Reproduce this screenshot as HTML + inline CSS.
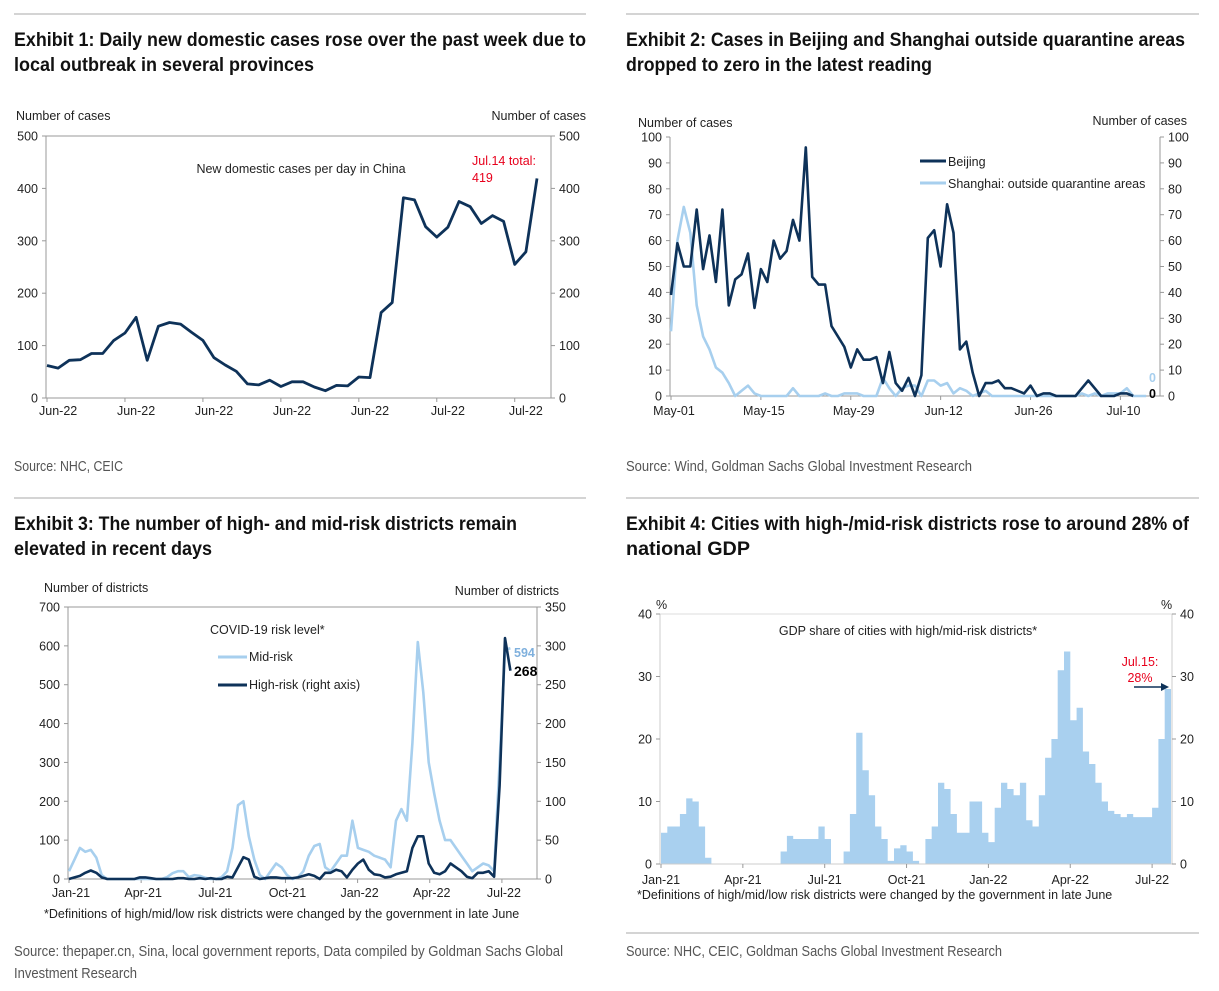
<!DOCTYPE html>
<html><head><meta charset="utf-8"><style>
body{margin:0;background:#fff;width:1219px;height:991px;overflow:hidden}
svg{display:block;font-family:"Liberation Sans",sans-serif}
.ttl{font-family:"Liberation Sans",sans-serif;font-weight:bold;font-size:19px;fill:#111}
.src{font-family:"Liberation Sans",sans-serif;font-size:14.5px;fill:#555}
.ax{font-size:12.5px;fill:#222}
</style></head><body>
<svg id="s" width="1219" height="991" viewBox="0 0 1219 991">
<g stroke="#bbb" stroke-width="1.2">
<line x1="14" y1="14" x2="586" y2="14"/><line x1="626" y1="14" x2="1199" y2="14"/>
<line x1="14" y1="498" x2="586" y2="498"/><line x1="626" y1="498" x2="1199" y2="498"/>
<line x1="626" y1="933" x2="1199" y2="933"/>
</g>
<text class="ttl" x="14" y="46" textLength="572" lengthAdjust="spacingAndGlyphs">Exhibit 1: Daily new domestic cases rose over the past week due to</text>
<text class="ttl" x="14" y="71" textLength="300" lengthAdjust="spacingAndGlyphs">local outbreak in several provinces</text>
<text class="ttl" x="626" y="46" textLength="559" lengthAdjust="spacingAndGlyphs">Exhibit 2: Cases in Beijing and Shanghai outside quarantine areas</text>
<text class="ttl" x="626" y="71" textLength="306" lengthAdjust="spacingAndGlyphs">dropped to zero in the latest reading</text>
<text class="ttl" x="14" y="530" textLength="503" lengthAdjust="spacingAndGlyphs">Exhibit 3: The number of high- and mid-risk districts remain</text>
<text class="ttl" x="14" y="555" textLength="198" lengthAdjust="spacingAndGlyphs">elevated in recent days</text>
<text class="ttl" x="626" y="530" textLength="563" lengthAdjust="spacingAndGlyphs">Exhibit 4: Cities with high-/mid-risk districts rose to around 28% of</text>
<text class="ttl" x="626" y="555" textLength="124" lengthAdjust="spacingAndGlyphs">national GDP</text>
<text class="src" x="14" y="471" textLength="109" lengthAdjust="spacingAndGlyphs">Source: NHC, CEIC</text>
<text class="src" x="626" y="471" textLength="346" lengthAdjust="spacingAndGlyphs">Source: Wind, Goldman Sachs Global Investment Research</text>
<text class="src" x="14" y="956" textLength="549" lengthAdjust="spacingAndGlyphs">Source: thepaper.cn, Sina, local government reports, Data compiled by Goldman Sachs Global</text>
<text class="src" x="14" y="978" textLength="123" lengthAdjust="spacingAndGlyphs">Investment Research</text>
<text class="src" x="626" y="956" textLength="376" lengthAdjust="spacingAndGlyphs">Source: NHC, CEIC, Goldman Sachs Global Investment Research</text>
</svg>
<script>
// ---- Chart 1 data ----
const c1Values=[62,57,72,73,85,85,110,124,154,72,137,144,141,125,110,77,63,51,27,25,34,22,31,31,21,14,24,23,40,39,163,182,382,378,327,307,326,375,365,333,348,337,255,279,419];
const c1Ticks=[0,100,200,300,400,500];
const c1XLabels=["Jun-22","Jun-22","Jun-22","Jun-22","Jun-22","Jul-22","Jul-22"];
// ---- Chart 2 data ----
const c2Beijing=[39,59,50,50,72,49,62,44,72,35,45,47,55,34,49,44,60,53,56,68,60,96,46,43,43,27,23,19,11,18,14,14,15,5,17,5,2,7,0,8,61,64,50,74,63,18,21,9,0,5,5,6,3,3,2,1,4,0,1,1,0,0,0,0,3,6,3,0,0,0,1,1,0];
const c2Shanghai=[25,60,73,63,35,23,18,11,9,5,0,2,4,1,0,0,0,0,0,3,0,0,0,0,1,0,0,1,1,1,0,0,0,7,3,0,3,4,4,0,6,6,4,5,1,3,2,0,1,2,0,0,0,0,0,0,0,0,0,0,0,0,0,0,1,0,1,0,1,1,1,3,0,0,0];
const c2Ticks=[0,10,20,30,40,50,60,70,80,90,100];
const c2XLabels=["May-01","May-15","May-29","Jun-12","Jun-26","Jul-10"];
// ---- Chart 3 data (weekly) ----
const c3Mid=[20,50,80,70,75,55,10,0,0,0,0,0,0,0,0,0,0,0,5,15,20,20,5,10,8,3,0,0,5,20,80,190,200,110,50,10,0,20,40,30,10,0,5,20,60,85,90,30,20,40,60,60,150,80,75,70,60,55,50,30,150,180,150,350,610,480,300,220,150,100,100,80,60,40,20,30,40,35,20,300,590,594];
const c3High=[0,2,4,8,11,8,2,0,0,0,0,0,0,2,2,1,0,0,0,0,1,1,0,0,1,0,1,0,0,3,2,15,28,25,3,0,1,2,2,1,1,1,2,4,6,4,0,8,8,12,10,2,12,20,25,12,6,5,2,3,6,8,10,40,55,55,20,8,6,10,20,15,10,3,1,8,8,10,3,120,310,268];
const c3LeftTicks=[0,100,200,300,400,500,600,700];
const c3RightTicks=[0,50,100,150,200,250,300,350];
const c3XLabels=["Jan-21","Apr-21","Jul-21","Oct-21","Jan-22","Apr-22","Jul-22"];
// ---- Chart 4 data (weekly) ----
const c4Share=[5,6,6,8,10.5,10,6,1,0,0,0,0,0,0,0,0,0,0,0,2,4.5,4,4,4,4,6,4,0,0,2,8,21,15,11,6,4,0.5,2.5,3,2,0.5,0,4,6,13,12,8,5,5,10,10,5,3.5,9,13,12,11,13,7,6,11,17,20,31,34,23,25,18,16,13,10,8.5,8,7.5,8,7.5,7.5,7.5,9,20,28];
const c4Ticks=[0,10,20,30,40];
const c4XLabels=["Jan-21","Apr-21","Jul-21","Oct-21","Jan-22","Apr-22","Jul-22"];

const NS="http://www.w3.org/2000/svg",S=document.getElementById('s');
function mk(tag,at,parent,txt){const e=document.createElementNS(NS,tag);for(const k in at)e.setAttribute(k,at[k]);if(txt!==undefined)e.textContent=txt;(parent||S).appendChild(e);return e;}
function grp(name){const g=mk('g',{});


return g;}
function frame(g,x0,x1,y0,y1,top,col){mk('path',{d:`M${x0},${y0}V${y1}H${x1}V${y0}`+(top?`H${x0}`:''),fill:'none',stroke:col||'#999','stroke-width':1},g);}
function yAxis(g,ticks,ys,x,side,prefix){ticks.forEach(t=>{const y=ys(t);
mk('line',{x1:x,x2:x+(side==='l'?-4:4),y1:y,y2:y,stroke:'#999'},g);
const tx=mk('text',{x:side==='l'?x-8:x+8,y:y+4.5,'text-anchor':side==='l'?'end':'start',class:'ax'},g,String(t));

});}
function line(g,vals,xs,ys,color,w,name){const d=vals.map((v,i)=>(i?'L':'M')+xs(i).toFixed(1)+','+ys(v).toFixed(1)).join('');
const p=mk('path',{d,fill:'none',stroke:color,'stroke-width':w,'stroke-linejoin':'round'},g);

return p;}
function txt(g,x,y,s,name,extra,style){const t=mk('text',Object.assign({x,y,class:'ax'},extra||{}),g,s);
if(style)t.setAttribute('style',style);

return t;}
const NAVY='#0e3259',LB='#a7cfee',RED='fill:#e8001c';

// Chart 1
(function(){const g=grp('exhibit-1-chart');const X0=46,X1=551,Y0=136,Y1=398;
const ys=v=>Y1-(v/500)*(Y1-Y0);const xs=i=>47+i*(537-47)/(c1Values.length-1);
frame(g,X0,X1,Y0,Y1,true);yAxis(g,c1Ticks,ys,X0,'l','c1-left');yAxis(g,c1Ticks,ys,X1,'r','c1-right');
c1XLabels.forEach((l,k)=>{const x=xs(k*7+1);txt(g,x,415,l,'c1-x-label',{'text-anchor':'middle'});mk('line',{x1:xs(k*7),x2:xs(k*7),y1:Y1,y2:Y1+4,stroke:'#999'},g);});
line(g,c1Values,xs,ys,NAVY,2.8,'new-cases-line');
txt(g,16,120,'Number of cases','c1-left-axis-title');txt(g,586,120,'Number of cases','c1-right-axis-title',{'text-anchor':'end'});
txt(g,301,173,'New domestic cases per day in China','c1-series-label',{'text-anchor':'middle'});
txt(g,472,165,'Jul.14 total:','c1-annotation',{},RED);txt(g,472,182,'419','c1-annotation-value',{},RED);})();

// Chart 2
(function(){const g=grp('exhibit-2-chart');const X0=670,X1=1160,Y0=137,Y1=396;
const ys=v=>Y1-(v/100)*(Y1-Y0);const xs=i=>671+i*6.42;
frame(g,X0,X1,Y0,Y1,false);yAxis(g,c2Ticks,ys,X0,'l','c2-left');yAxis(g,c2Ticks,ys,X1,'r','c2-right');
c2XLabels.forEach((l,k)=>{txt(g,xs(k*14)+3,415,l,'c2-x-label',{'text-anchor':'middle'});mk('line',{x1:xs(k*14),x2:xs(k*14),y1:Y1,y2:Y1+4,stroke:'#999'},g);});
line(g,c2Shanghai,xs,ys,LB,2.6,'shanghai-line');line(g,c2Beijing,xs,ys,NAVY,2.6,'beijing-line');
txt(g,638,127,'Number of cases','c2-left-axis-title');txt(g,1187,125,'Number of cases','c2-right-axis-title',{'text-anchor':'end'});
mk('line',{x1:920,x2:946,y1:161,y2:161,stroke:NAVY,'stroke-width':3},g);txt(g,948,166,'Beijing','legend-beijing');
mk('line',{x1:920,x2:946,y1:183,y2:183,stroke:LB,'stroke-width':3},g);txt(g,948,188,'Shanghai: outside quarantine areas','legend-shanghai');
txt(g,1149,382,'0','shanghai-last-value',{'font-weight':'bold'},'fill:'+LB);txt(g,1149,398,'0','beijing-last-value',{'font-weight':'bold'},'fill:#000');})();

// Chart 3
(function(){const g=grp('exhibit-3-chart');const X0=68,X1=537,Y0=607,Y1=879;
const ysL=v=>Y1-(v/700)*(Y1-Y0),ysR=v=>Y1-(v/350)*(Y1-Y0);const xs=i=>69+i*5.45;
frame(g,X0,X1,Y0,Y1,true);yAxis(g,c3LeftTicks,ysL,X0,'l','c3-left');yAxis(g,c3RightTicks,ysR,X1,'r','c3-right');
c3XLabels.forEach((l,k)=>{const x=69+k*13*5.55;txt(g,x+2,897,l,'c3-x-label',{'text-anchor':'middle'});mk('line',{x1:x,x2:x,y1:Y1,y2:Y1+4,stroke:'#999'},g);});
line(g,c3Mid,xs,ysL,LB,2.6,'mid-risk-line');line(g,c3High,xs,ysR,NAVY,2.6,'high-risk-line');
txt(g,44,592,'Number of districts','c3-left-axis-title');txt(g,559,595,'Number of districts','c3-right-axis-title',{'text-anchor':'end'});
txt(g,210,634,'COVID-19 risk level*','c3-legend-title');
mk('line',{x1:218,x2:247,y1:657,y2:657,stroke:LB,'stroke-width':3},g);txt(g,249,661,'Mid-risk','legend-mid-risk');
mk('line',{x1:218,x2:247,y1:685,y2:685,stroke:NAVY,'stroke-width':3},g);txt(g,249,689,'High-risk (right axis)','legend-high-risk');
txt(g,514,657,'594','mid-risk-last-value',{'font-weight':'bold'},'fill:#7fb0dd');txt(g,514,676,'268','high-risk-last-value',{'font-weight':'bold'},'fill:#000;font-size:14px');
txt(g,44,918,'*Definitions of high/mid/low risk districts were changed by the government in late June','c3-footnote');})();

// Chart 4
(function(){const g=grp('exhibit-4-chart');const X0=660,X1=1172,Y0=614,Y1=864;
const n=c4Share.length,w=(X1-1-661)/n;
const ys=v=>Y1-(v/40)*(Y1-Y0);const xs=i=>661+i*w;
mk('line',{x1:X0,x2:X1,y1:Y0,y2:Y0,stroke:'#ddd'},g);
let d=`M${xs(0)},${Y1}`;c4Share.forEach((v,i)=>{d+=`L${xs(i).toFixed(1)},${ys(v).toFixed(1)}L${(xs(i)+w).toFixed(1)},${ys(v).toFixed(1)}`;});d+=`L${(xs(n-1)+w).toFixed(1)},${Y1}Z`;
const a=mk('path',{d,fill:'#a9d0ef'},g);


frame(g,X0,X1,Y0,Y1,false,'#ccc');yAxis(g,c4Ticks,ys,X0,'l','c4-left');yAxis(g,c4Ticks,ys,X1,'r','c4-right');
c4XLabels.forEach((l,k)=>{const x=xs(k*13);txt(g,x,884,l,'c4-x-label',{'text-anchor':'middle'});mk('line',{x1:x,x2:x,y1:Y1,y2:Y1+4,stroke:'#999'},g);});
txt(g,656,609,'%','c4-left-axis-title');txt(g,1161,609,'%','c4-right-axis-title');
txt(g,908,635,'GDP share of cities with high/mid-risk districts*','c4-series-label',{'text-anchor':'middle'});
txt(g,1140,666,'Jul.15:','c4-annotation',{'text-anchor':'middle'},RED);txt(g,1140,682,'28%','c4-annotation-value',{'text-anchor':'middle'},RED);
mk('line',{x1:1134,x2:1162,y1:687,y2:687,stroke:NAVY,'stroke-width':1.5},g);mk('path',{d:'M1169,687L1161,683L1161,691Z',fill:NAVY},g);
txt(g,637,899,'*Definitions of high/mid/low risk districts were changed by the government in late June','c4-footnote');})();
</script>
</body></html>
